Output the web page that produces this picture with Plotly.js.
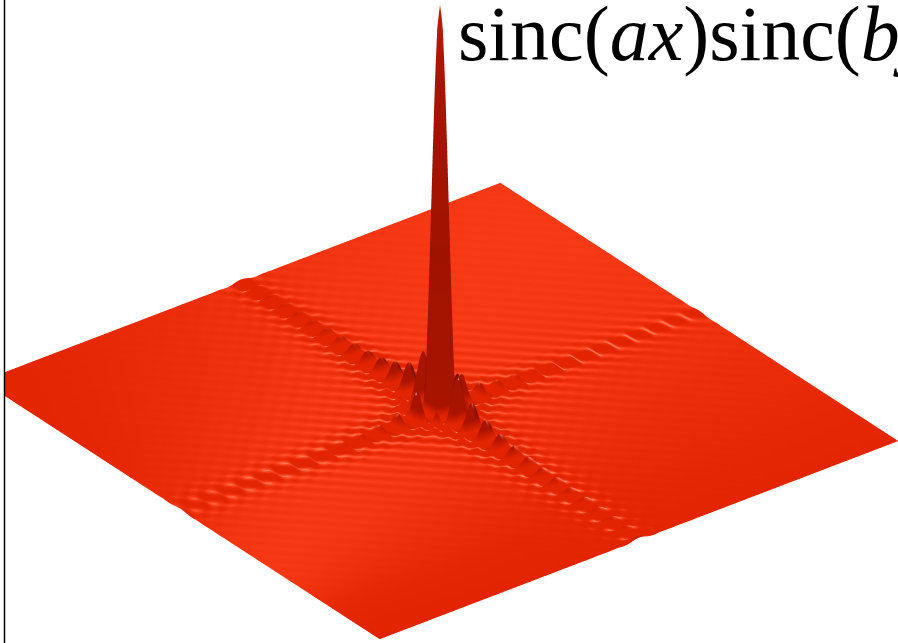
<!DOCTYPE html>
<html><head><meta charset="utf-8">
<script src="https://cdn.plot.ly/plotly-3.0.1.min.js"></script>
<style>html,body{margin:0;padding:0;background:#fff;overflow:hidden}#c{width:898px;height:643px}</style>
</head><body><div id="c"></div>
<script>
// Half-axis sample positions, centre outwards
const halfPositions = [0,0.006,0.012,0.018,0.024,0.03,0.035,0.043,0.05,0.058,0.07,0.078,0.086,0.094,0.105,0.1225,0.14,0.1575,0.175,0.1925,0.21,0.2275,0.245,0.2625,0.28,0.2975,0.315,0.3325,0.35,0.3675,0.385,0.4025,0.42,0.4375,0.455,0.4725,0.49,0.5075,0.525,0.5425,0.56,0.5775,0.595,0.6125,0.63,0.6475,0.665,0.6825,0.7,0.7175,0.735,0.7525,0.77,0.7875,0.805,0.8225,0.84,0.8575,0.875,0.8925,0.91,0.9275,0.945,0.9625,0.98,1];
// Relative height along the strong ridge (the one running lower right to upper left)
const yHalfProfile = [1,0.97,0.88,0.74,0.56,0.34,0.14,0,-0.13,-0.2,-0.08,0.05,0.12,0.09,0,-0.09,0,0.07,0,-0.058,0,0.05,0,-0.043,0,0.038,0,-0.034,0,0.031,0,-0.028,0,0.026,0,-0.024,0,0.022,0,-0.021,0,0.02,0,-0.018,0,0.017,0,-0.017,0,0.016,0,-0.015,0,0.014,0,-0.014,0,0.013,0,-0.013,0,0.012,0,-0.012,0,0.006];
// Relative height along the weak ridge (lower left to upper right)
const xHalfProfile = [1,0.97,0.88,0.74,0.56,0.34,0.14,0,-0.1,-0.15,-0.06,0.03,0.07,0.05,0,-0.04,0,0.03,0,-0.025,0,0.02,0,-0.018,0,0.016,0,-0.014,0,0.013,0,-0.012,0,0.011,0,-0.01,0,0.0095,0,-0.009,0,0.0085,0,-0.008,0,0.0075,0,-0.007,0,0.007,0,-0.0065,0,0.006,0,-0.006,0,0.0055,0,-0.0055,0,0.005,0,-0.005,0,0.003];
const titleText = 'sinc(<i>ax</i>)sinc(<i>by</i>)';

const mirrorSigned = a => [...a.slice(1).reverse().map(v => -v), ...a];
const mirror = a => [...a.slice(1).reverse(), ...a];
const xPositions = mirrorSigned(halfPositions);
const yPositions = mirrorSigned(halfPositions);
const xProfile = mirror(xHalfProfile);
const yProfile = mirror(yHalfProfile);
const zGrid = yProfile.map(py => xProfile.map(px => px * py));

const hiddenAxis = r => ({visible:false, range:r, showgrid:false, zeroline:false, showticklabels:false, showspikes:false, showbackground:false});
const dir = [0.528,0.688,0.498], dist = 2, look = [-0.0222,0.0171,-0.247];
Plotly.newPlot('c', [{
  type:'surface', x:xPositions, y:yPositions, z:zGrid, showscale:false,
  colorscale:[[0,'#a01200'],[0.155,'#b01600'],[0.172,'#e32400'],[0.186,'#e32400'],[0.205,'#a81400'],[0.5,'#a01200'],[0.85,'#a81400'],[1,'#c01800']], cauto:false, cmin:-0.22, cmax:1,
  lighting:{ambient:0.78,diffuse:0.55,specular:0.3,roughness:0.4,fresnel:0},
  lightposition:{x:-5000,y:-5000,z:-100000}, hoverinfo:'skip'
}], {
  width:898, height:643, margin:{l:0,r:0,t:0,b:0}, paper_bgcolor:'#fff', showlegend:false,
  scene:{
    domain:{x:[0,1],y:[0,1]},
    xaxis:hiddenAxis([-1,1]), yaxis:hiddenAxis([-1,1]), zaxis:hiddenAxis([-0.22,1]),
    aspectmode:'manual', aspectratio:{x:2.034,y:2.034,z:1.777},
    camera:{eye:{x:look[0]+dir[0]*dist,y:look[1]+dir[1]*dist,z:look[2]+dir[2]*dist},center:{x:look[0],y:look[1],z:look[2]},up:{x:0,y:0,z:1},projection:{type:'orthographic'}}
  },
  shapes:[
    {type:'rect',xref:'paper',yref:'paper',x0:0,x1:0.005,y0:0,y1:1,fillcolor:'#fff',line:{width:0},layer:'above'},
    {type:'line',xref:'paper',yref:'paper',x0:0.005,x1:0.005,y0:0,y1:1,line:{color:'#000',width:1.5},layer:'above'}
  ],
  annotations:[{text:titleText,xref:'paper',yref:'paper',x:0.508,y:1.018,xanchor:'left',yanchor:'top',showarrow:false,font:{family:'Liberation Serif',size:78,color:'#000'}}]
},{displayModeBar:false});
</script></body></html>
